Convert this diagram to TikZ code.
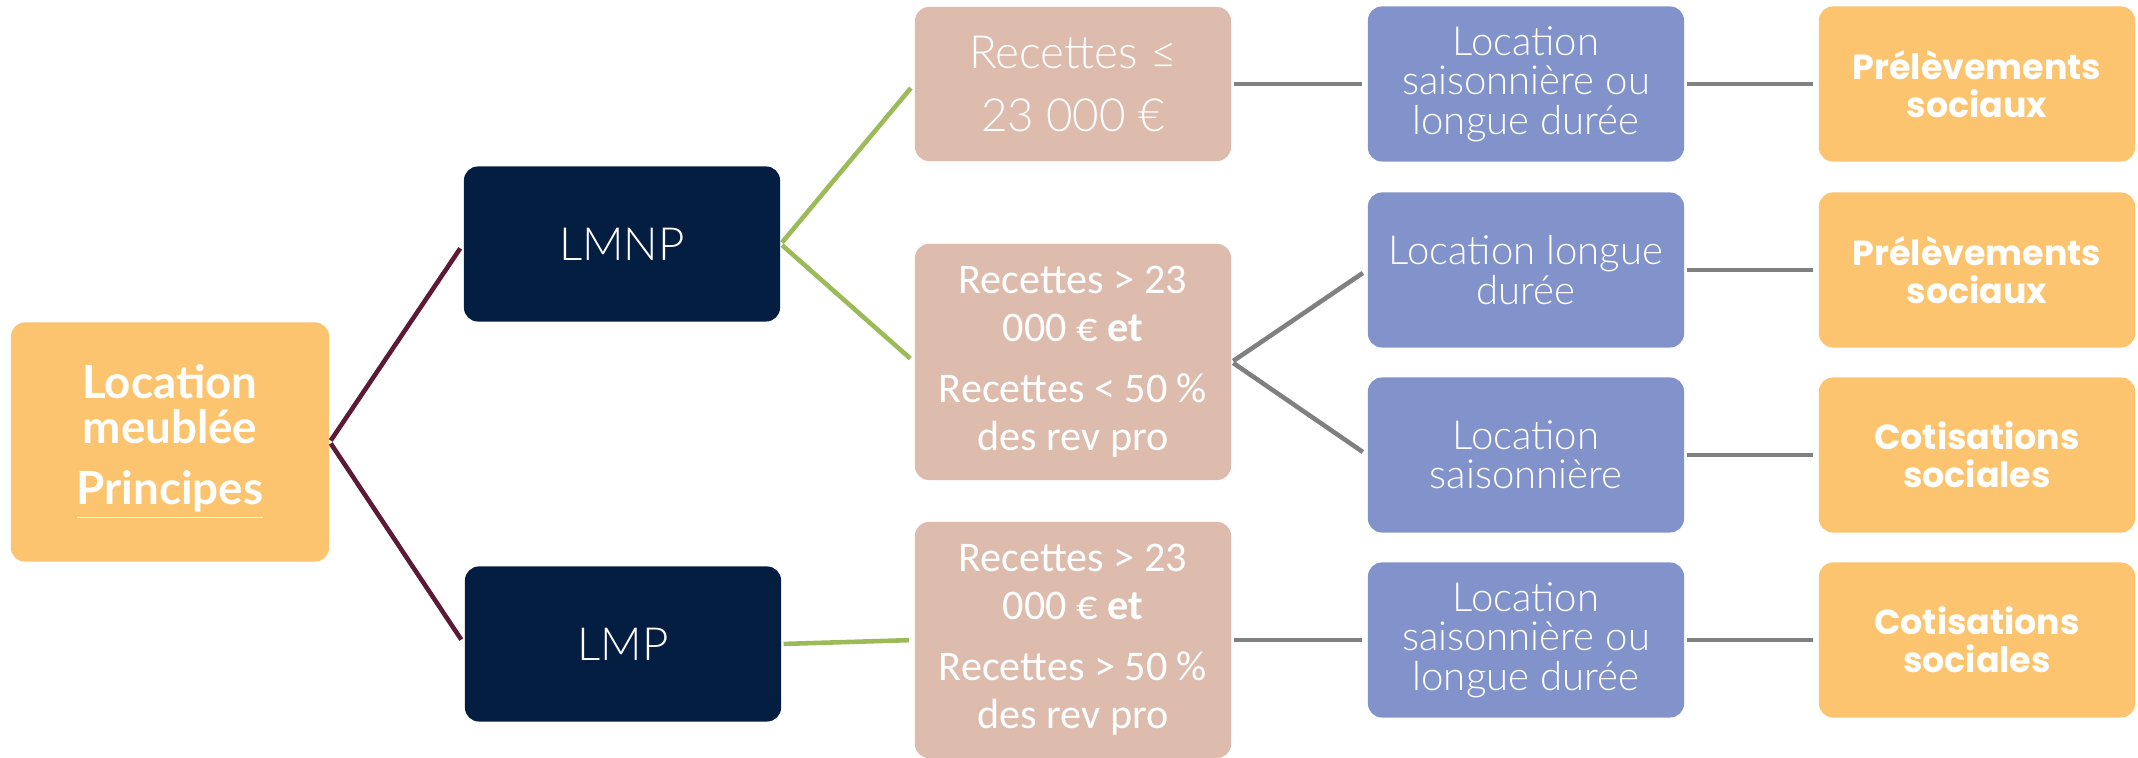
\documentclass[tikz,border=0pt]{standalone}
\usepackage{fontspec}
\setmainfont{Lato}
\newfontfamily\lightfont{Lato Light}
\newfontfamily\calfont{Carlito}
\newfontfamily\popfont{Poppins}

\definecolor{orangebox}{HTML}{FCC46E}
\definecolor{navybox}{HTML}{041E42}
\definecolor{rosebox}{HTML}{DDBBAD}
\definecolor{bluebox}{HTML}{8293CC}
\definecolor{greenline}{HTML}{9BBB59}
\definecolor{wineline}{HTML}{5C1A36}
\definecolor{grayline}{HTML}{808080}

\tikzset{
	box/.style={rounded corners=4pt, text=white, align=center, inner sep=2pt, minimum width=3.16cm, minimum height=1.55cm},
	rootbox/.style={box, fill=orangebox, minimum width=3.18cm, minimum height=2.39cm, font=\bfseries\fontsize{13}{12.8}\selectfont},
	statbox/.style={box, fill=navybox, font=\lightfont\fontsize{13}{15}\selectfont},
	seuilbox/.style={box, fill=rosebox, minimum height=2.36cm, font=\calfont\fontsize{12}{13.6}\selectfont},
	typebox/.style={box, fill=bluebox, font=\lightfont\fontsize{11.4}{11.2}\selectfont},
	taxbox/.style={box, fill=orangebox, font=\popfont\bfseries\fontsize{9.9}{10.9}\selectfont},
	link/.style={line width=1.3pt, shorten <=0.5pt, shorten >=1.5pt},
}

\begin{document}
\begin{tikzpicture}[x=0.01cm, y=-0.01cm]
			\useasboundingbox (0,0) rectangle (2138,758);
			
			\node[rootbox] (loc) at (170,442) {Location\\meublée\\[4.7pt]\underline{Principes}};
			\node[statbox] (lmnp) at (622,244) {LMNP};
			\node[statbox] (lmp) at (623,644) {LMP};
			
			\node[seuilbox, minimum height=1.54cm, font=\lightfont\fontsize{13}{14.4}\selectfont] (bas) at (1073,84) {Recettes ≤\\[3.6pt]23 000 €};
			\node[seuilbox] (moyen) at (1073,362) {Recettes > 23\\000 € \textbf{et}\\[3.8pt]Recettes < 50 \%\\des rev pro};
			\node[seuilbox] (haut) at (1073,640) {Recettes > 23\\000 € \textbf{et}\\[3.8pt]Recettes > 50 \%\\des rev pro};
			
			\node[typebox] (t1) at (1526,84) {Location\\saisonnière ou\\longue durée};
			\node[typebox] (t2) at (1526,270) {Location longue\\durée};
			\node[typebox] (t3) at (1526,455) {Location\\saisonnière};
			\node[typebox] (t4) at (1526,640) {Location\\saisonnière ou\\longue durée};
			
			\foreach \i/\y/\txt in {1/84/{Prélèvements\\sociaux}, 2/270/{Prélèvements\\sociaux}, 3/455/{Cotisations\\sociales}, 4/640/{Cotisations\\sociales}}
			\node[taxbox] (f\i) at (1977,\y) {\txt};
			
			\draw[link, wineline] (loc.east) -- (lmnp.west);
			\draw[link, wineline] (loc.east) -- (lmp.west);
			
			\draw[link, greenline] (lmnp.east) -- (bas.west);
			\draw[link, greenline] (lmnp.east) -- (moyen.west);
			\draw[link, greenline] (lmp.east) -- (haut.west);
			
			\draw[link, grayline] (bas.east) -- (t1.west);
			\draw[link, grayline] (moyen.east) -- (t2.west);
			\draw[link, grayline] (moyen.east) -- (t3.west);
			\draw[link, grayline] (haut.east) -- (t4.west);
			
			\foreach \i in {1,2,3,4}
			\draw[link, grayline] (t\i.east) -- (f\i.west);
			\end{tikzpicture}
\end{document}
